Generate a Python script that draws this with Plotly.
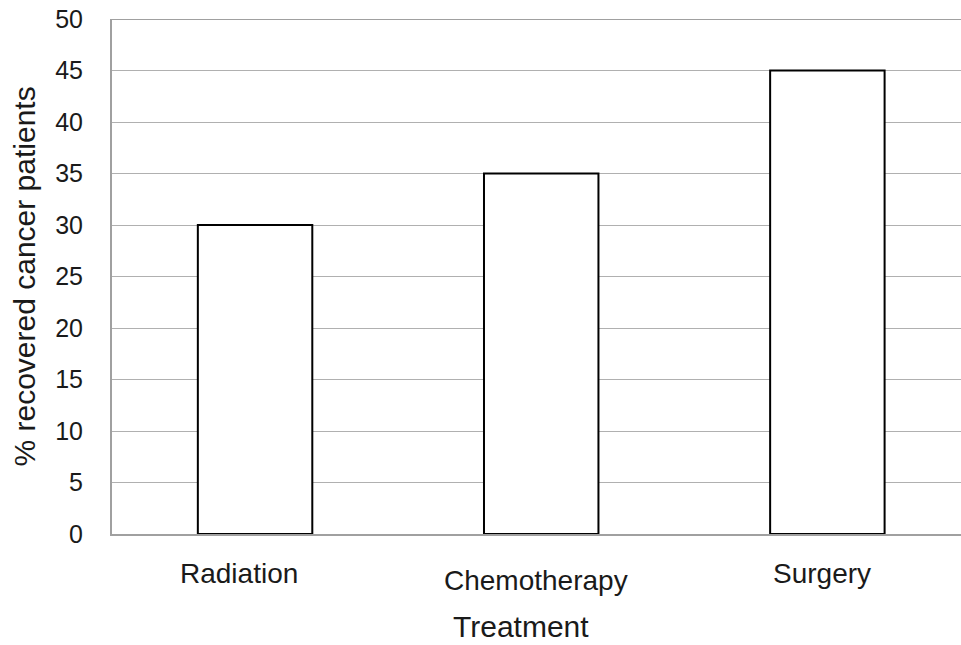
import plotly.graph_objects as go

categories = ["Radiation", "Chemotherapy", "Surgery"]
values = [30, 35, 45]
y_ticks = [0, 5, 10, 15, 20, 25, 30, 35, 40, 45, 50]
label_shift_y = [-39, -46, -39]
label_shift_x = [-16, -5, -5]

FONT = "Arial, Liberation Sans, sans-serif"
TXT = "#1a1a1a"

fig = go.Figure()
fig.add_trace(go.Bar(
    x=list(range(len(categories))), y=values, width=0.40,
    marker=dict(color="white", line=dict(color="black", width=2)),
    hoverinfo="skip",
))

annotations = []
for i, (c, sy, sx) in enumerate(zip(categories, label_shift_y, label_shift_x)):
    annotations.append(dict(x=i, y=0, xref="x", yref="paper", text=c, showarrow=False,
                            xanchor="center", yanchor="middle", yshift=sy, xshift=sx,
                            font=dict(family=FONT, size=28, color=TXT)))
annotations.append(dict(x=0.4817, y=0, xref="paper", yref="paper", text="Treatment",
                        showarrow=False, xanchor="center", yanchor="middle", yshift=-92,
                        font=dict(family=FONT, size=30, color=TXT)))
annotations.append(dict(x=-0.1036, y=0.5, xref="paper", yref="paper",
                        text="% recovered cancer patients", textangle=-90,
                        showarrow=False, xanchor="center", yanchor="middle",
                        font=dict(family=FONT, size=30, color=TXT)))

fig.update_layout(
    width=961, height=645,
    margin=dict(l=112, r=0, t=19, b=111),
    paper_bgcolor="white", plot_bgcolor="white",
    showlegend=False,
    annotations=annotations,
    xaxis=dict(range=[-0.5, 2.467], showticklabels=False, showgrid=False,
               showline=True, linecolor="#a0a0a0", linewidth=2, zeroline=False,
               fixedrange=True),
    yaxis=dict(range=[0, 50], tickvals=y_ticks, showgrid=True, gridcolor="#b0b0b0",
               gridwidth=1, showline=True, linecolor="#a0a0a0", linewidth=2,
               zeroline=False, ticks="", ticklabelstandoff=22,
               tickfont=dict(family=FONT, size=25, color=TXT), fixedrange=True),
)
fig.add_shape(type="line", xref="paper", yref="y", x0=0, x1=1, y0=50, y1=50,
              line=dict(color="#a0a0a0", width=2), layer="below")

fig.write_html("out.html")
